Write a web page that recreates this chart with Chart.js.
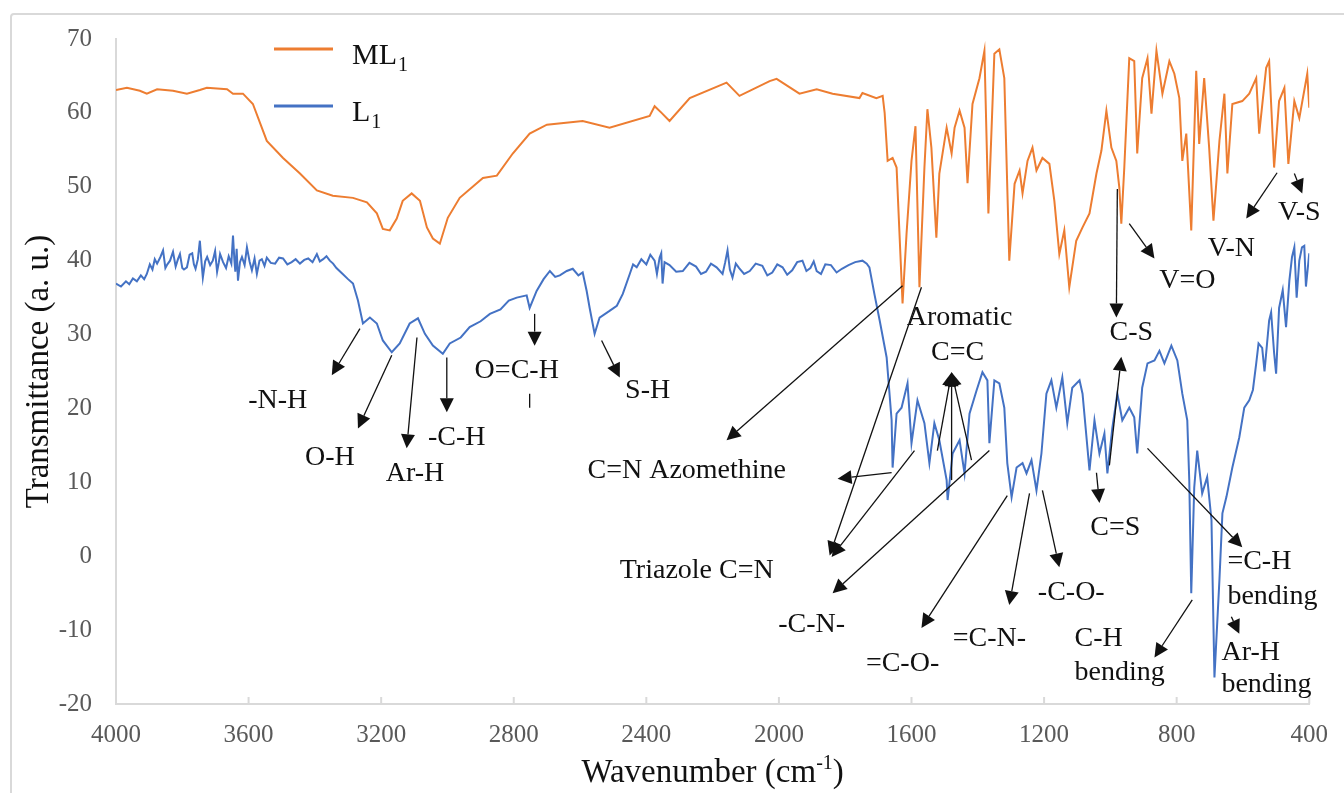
<!DOCTYPE html>
<html>
<head>
<meta charset="utf-8">
<title>FT-IR spectra of L1 and ML1</title>
<script src="https://cdn.jsdelivr.net/npm/chart.js"></script>
<style>
  html, body { margin: 0; padding: 0; background: #fff; overflow: hidden; }
  .chart-box { position: relative; width: 1344px; height: 793px; overflow: hidden; }
  .chart-frame { position: absolute; left: 10px; top: 13px; width: 1400px; height: 900px; border: 2px solid #d9d9d9; border-radius: 4px; }
  canvas { position: absolute; left: 0; top: 0; }
</style>
</head>
<body>
<div class="chart-box">
  <div class="chart-frame"></div>
  <canvas id="irChart" width="1344" height="793"></canvas>
</div>
<script>
// Spectra data (wavenumber in cm-1, transmittance in a. u.)

const ml1Wavenumber = [
  4000, 3967, 3928, 3907, 3876, 3828, 3786, 3747, 3726, 3665,
  3647, 3617, 3587, 3545, 3496, 3445, 3394, 3346, 3285, 3243,
  3213, 3195, 3174, 3153, 3135, 3108, 3083, 3062, 3044, 3023,
  2999, 2963, 2893, 2851, 2803, 2752, 2700, 2592, 2511, 2390,
  2375, 2354, 2330, 2269, 2158, 2119, 2028, 2007, 1938, 1886,
  1838, 1757, 1748, 1706, 1687, 1681, 1672, 1657, 1645, 1627,
  1615, 1600, 1588, 1576, 1561, 1552, 1540, 1525, 1516, 1494,
  1479, 1470, 1455, 1440, 1431, 1416, 1395, 1380, 1368, 1350,
  1335, 1320, 1305, 1289, 1274, 1265, 1250, 1235, 1223, 1205,
  1184, 1169, 1154, 1139, 1124, 1103, 1084, 1063, 1042, 1027,
  1012, 997, 982, 973, 967, 958, 943, 928, 919, 904,
  888, 876, 861, 843, 822, 807, 792, 783, 771, 756,
  741, 732, 717, 702, 689, 671, 656, 647, 632, 602,
  581, 560, 551, 530, 521, 506, 491, 475, 463, 445,
  430, 406, 400,
];
const ml1Transmittance = [
  63.1, 63.4, 63.0, 62.6, 63.2, 63.0, 62.6, 63.1, 63.4, 63.2,
  62.6, 62.6, 61.2, 56.2, 53.9, 51.8, 49.5, 48.8, 48.5, 47.9,
  46.4, 44.3, 44.1, 45.7, 48.1, 49.1, 48.1, 44.5, 43.0, 42.3,
  45.8, 48.5, 51.2, 51.5, 54.5, 57.2, 58.4, 58.9, 58.0, 59.6,
  60.9, 60.0, 58.9, 62.0, 64.1, 62.3, 64.3, 64.6, 62.6, 63.2,
  62.6, 62.0, 62.7, 62.0, 62.3, 60.0, 53.5, 53.9, 52.6, 34.2,
  43.6, 53.5, 58.2, 36.4, 52.6, 60.5, 55.3, 43.1, 51.8, 58.0,
  54.5, 58.0, 60.3, 58.0, 50.5, 61.2, 64.7, 68.4, 46.4, 68.0,
  68.6, 64.7, 40.0, 50.4, 52.2, 49.1, 53.5, 55.3, 52.2, 53.9,
  53.1, 48.1, 40.9, 44.1, 36.4, 42.7, 44.5, 46.4, 51.8, 54.9,
  60.3, 55.3, 53.5, 49.9, 45.0, 52.6, 67.4, 67.0, 54.5, 64.7,
  67.4, 59.9, 68.4, 62.6, 67.0, 65.3, 62.0, 53.5, 57.2, 44.1,
  65.7, 55.8, 64.7, 55.3, 45.4, 56.2, 62.6, 51.8, 61.2, 61.6,
  62.6, 64.7, 57.2, 66.1, 67.0, 52.6, 61.6, 63.4, 53.1, 61.6,
  59.3, 65.3, 60.7,
];

const l1Wavenumber = [
  // 4000 - 3335
  4000, 3985, 3970, 3960, 3949, 3937, 3925, 3915, 3907, 3898,
  3890, 3883, 3876, 3866, 3858, 3851, 3845, 3837, 3828, 3820,
  3813, 3807, 3800, 3795, 3786, 3778, 3770, 3765, 3760, 3753,
  3747, 3742, 3738, 3731, 3725, 3716, 3708, 3701, 3695, 3690,
  3686, 3677, 3668, 3660, 3652, 3647, 3643, 3640, 3636, 3632,
  3626, 3620, 3612, 3605, 3597, 3590, 3582, 3575, 3567, 3560,
  3552, 3545, 3533, 3520, 3508, 3496, 3483, 3470, 3458, 3445,
  3432, 3420, 3407, 3394, 3385, 3375, 3365, 3355, 3345, 3335,
  // 3316 - 2592
  3316, 3300, 3285, 3270, 3255, 3234, 3213, 3195, 3168, 3144,
  3114, 3089, 3068, 3044, 3014, 2993, 2960, 2933, 2900, 2872,
  2840, 2815, 2791, 2761, 2752, 2731, 2710, 2691, 2675, 2661,
  2640, 2622, 2605, 2592,
  // 2580 - 2429
  2580, 2571, 2556, 2541, 2511, 2489, 2471, 2450, 2440, 2429,
  // 2415 - 1727
  2415, 2400, 2388, 2375, 2368, 2360, 2355, 2351, 2345, 2330,
  2310, 2290, 2270, 2250, 2235, 2220, 2205, 2188, 2170, 2162,
  2155, 2148, 2140, 2130, 2120, 2105, 2088, 2070, 2050, 2035,
  2020, 2005, 1989, 1975, 1960, 1945, 1929, 1917, 1905, 1895,
  1886, 1873, 1860, 1843, 1826, 1810, 1790, 1770, 1748, 1735,
  1727,
  // 1712 - 400
  1712, 1696, 1675, 1660, 1657, 1645, 1630, 1612, 1600, 1582,
  1561, 1546, 1531, 1516, 1494, 1491, 1476, 1455, 1440, 1425,
  1404, 1386, 1371, 1365, 1350, 1335, 1320, 1311, 1298, 1283,
  1265, 1253, 1238, 1223, 1208, 1193, 1178, 1163, 1145, 1130,
  1115, 1093, 1084, 1063, 1048, 1033, 1018, 1009, 994, 979,
  964, 943, 928, 919, 904, 888, 867, 852, 837, 816,
  798, 783, 768, 762, 756, 747, 738, 723, 708, 695,
  686, 671, 662, 650, 632, 611, 596, 581, 570, 560,
  553, 542, 535, 521, 515, 506, 500, 491, 480, 470,
  460, 452, 445, 438, 430, 422, 415, 410, 400,
];
const l1Transmittance = [
  // 4000 - 3335
  36.9, 36.5, 37.2, 36.8, 37.6, 37.2, 38.0, 37.5, 38.2, 39.5,
  38.8, 40.2, 39.6, 40.5, 41.4, 39.0, 39.5, 40.0, 41.2, 39.2,
  40.2, 40.9, 39.0, 38.8, 39.1, 40.8, 41.0, 39.5, 38.9, 40.2,
  42.7, 39.8, 37.7, 39.9, 40.5, 39.4, 40.0, 41.3, 38.5, 39.7,
  40.9, 39.8, 39.0, 40.6, 39.6, 43.4, 40.2, 38.5, 41.6, 37.3,
  39.8, 40.5, 39.4, 41.8, 39.9, 38.7, 40.3, 38.2, 40.0, 40.2,
  39.3, 40.4, 39.7, 39.6, 40.4, 40.3, 39.5, 39.8, 40.2, 39.6,
  40.1, 40.3, 39.8, 40.9, 39.9, 40.2, 40.6, 40.0, 39.6, 39.0,
  // 3316 - 2592
  38.2, 37.5, 36.9, 34.6, 31.5, 32.3, 31.5, 29.2, 27.6, 28.8,
  31.5, 32.2, 30.1, 28.5, 27.4, 28.8, 29.6, 31.0, 31.8, 32.8,
  33.4, 34.6, 35.0, 35.3, 33.6, 35.9, 37.5, 38.6, 37.8, 38.0,
  38.6, 38.9, 38.0, 38.4,
  // 2580 - 2429
  35.9, 33.6, 30.1, 32.3, 33.2, 33.9, 35.5, 38.2, 39.5, 39.1,
  // 2415 - 1727
  40.2, 39.5, 40.8, 40.0, 38.2, 40.4, 41.0, 36.9, 39.8, 39.4,
  38.5, 38.6, 39.7, 39.2, 38.2, 38.5, 39.6, 39.1, 38.2, 39.8,
  41.4, 38.8, 37.7, 39.6, 39.0, 38.2, 38.6, 39.6, 39.3, 38.0,
  38.4, 39.5, 39.1, 38.1, 38.7, 39.8, 40.0, 38.6, 39.0, 39.9,
  38.6, 38.2, 39.5, 39.4, 38.4, 38.9, 39.4, 39.8, 40.0, 39.6,
  39.1,
  // 1712 - 400
  35.5, 31.9, 26.9, 18.4, 12.0, 19.3, 20.1, 23.4, 15.3, 21.1,
  18.0, 12.6, 18.0, 15.7, 10.3, 7.6, 13.9, 15.7, 11.2, 19.3,
  22.4, 24.9, 23.8, 15.3, 23.8, 23.4, 20.1, 12.6, 8.0, 12.0,
  12.6, 11.2, 13.0, 8.9, 13.9, 22.0, 23.8, 20.1, 24.2, 18.0,
  22.8, 23.8, 22.0, 11.6, 18.4, 13.9, 16.6, 11.2, 17.4, 22.0,
  18.4, 20.1, 18.8, 13.9, 22.8, 26.1, 26.5, 27.8, 26.1, 28.5,
  26.5, 22.0, 18.4, 10.3, -5.0, 9.3, 14.3, 8.5, 10.7, 4.9,
  -16.4, -3.2, 5.8, 8.0, 12.0, 16.1, 20.1, 21.1, 22.5, 26.1,
  28.8, 28.2, 25.0, 31.9, 33.0, 27.5, 24.7, 33.6, 36.0, 31.0,
  37.3, 40.5, 41.8, 35.0, 40.0, 41.8, 42.0, 36.5, 41.0,
];

const xTickValues = [4000, 3600, 3200, 2800, 2400, 2000, 1600, 1200, 800, 400];

// Band assignments: arrows go from [wavenumber, T] to [wavenumber, T], head at the end
const peakArrows = [
  [3264, 30.8, 3349, 24.5],
  [3168, 27.2, 3270, 17.3],
  [3092, 29.6, 3123, 14.6],
  [3002, 26.9, 3002, 19.5],
  [2737, 32.8, 2737, 28.5],
  [2535, 29.2, 2480, 24.2],
  [1627, 36.6, 2158, 15.7],
  [1660, 11.3, 1823, 10.5],
  [1570, 36.4, 1847, 0.1],
  [1591, 14.3, 1841, -0.1],
  [1365, 14.3, 1838, -5.0],
  [1522, 14.3, 1479, 24.9],
  [1479, 10.3, 1479, 24.9],
  [1419, 13.0, 1479, 24.9],
  [1311, 8.2, 1570, -9.7],
  [1244, 8.5, 1305, -6.6],
  [1205, 8.9, 1154, -1.5],
  [1042, 11.3, 1033, 7.2],
  [979, 49.7, 982, 32.3],
  [1003, 12.3, 967, 27.0],
  [888, 14.6, 602, 1.2],
  [753, -5.9, 867, -13.7],
  [635, -8.2, 611, -10.5],
  [943, 45.0, 867, 40.3],
  [497, 51.9, 590, 45.7],
  [445, 51.8, 421, 49.1],
];
// short mark under the O=C-H label
const peakTicks = [[2752, 22.0, 2752, 20.1]];

const peakLabels = [
  ["-N-H", 3512, 21.1, "center"],
  ["O-H", 3355, 13.4, "center"],
  ["Ar-H", 3098, 11.2, "center"],
  ["-C-H", 2972, 16.1, "center"],
  ["O=C-H", 2791, 25.1, "center"],
  ["S-H", 2396, 22.4, "center"],
  ["C=N Azomethine", 2278, 11.6, "center"],
  ["Triazole C=N", 2248, -1.9, "center"],
  ["Aromatic", 1455, 32.3, "center"],
  ["C=C", 1461, 27.6, "center"],
  ["-C-N-", 1901, -9.3, "center"],
  ["=C-O-", 1627, -14.5, "center"],
  ["=C-N-", 1365, -11.1, "center"],
  ["-C-O-", 1118, -4.9, "center"],
  ["C=S", 985, 3.9, "center"],
  ["C-S", 937, 30.3, "center"],
  ["V=O", 768, 37.3, "center"],
  ["V-N", 635, 41.6, "center"],
  ["V-S", 430, 46.5, "center"],
  ["C-H", 1108, -11.1, "left"],
  ["bending", 1108, -15.7, "left"],
  ["=C-H", 647, -0.8, "left"],
  ["bending", 647, -5.5, "left"],
  ["Ar-H", 665, -13.0, "left"],
  ["bending", 665, -17.4, "left"],
];

const serif = '"Liberation Serif", "Times New Roman", serif';

function toPoints(xs, ys) {
  return xs.map((x, i) => ({ x: x, y: ys[i] }));
}

function drawArrow(ctx, x1, y1, x2, y2, withHead) {
  const angle = Math.atan2(y2 - y1, x2 - x1);
  const headLen = withHead ? 14 : 0;
  const cos = Math.cos(angle);
  const sin = Math.sin(angle);

  ctx.beginPath();
  ctx.moveTo(x1, y1);
  ctx.lineTo(x2 - headLen * cos, y2 - headLen * sin);
  ctx.stroke();

  if (!withHead) {
    return;
  }
  ctx.beginPath();
  ctx.moveTo(x2, y2);
  ctx.lineTo(x2 - headLen * cos + 7 * sin, y2 - headLen * sin - 7 * cos);
  ctx.lineTo(x2 - headLen * cos - 7 * sin, y2 - headLen * sin + 7 * cos);
  ctx.closePath();
  ctx.fill();
}

// small tick marks standing on the x axis
const axisTickMarks = {
  id: "axisTickMarks",
  afterDraw(chart) {
    const { ctx, chartArea, scales } = chart;
    ctx.save();
    ctx.strokeStyle = "#d9d9d9";
    ctx.lineWidth = 2;
    xTickValues.forEach((value) => {
      const px = scales.x.getPixelForValue(value);
      ctx.beginPath();
      ctx.moveTo(px, chartArea.bottom);
      ctx.lineTo(px, chartArea.bottom - 7);
      ctx.stroke();
    });
    ctx.restore();
  },
};

// arrows and band names
const bandAnnotations = {
  id: "bandAnnotations",
  afterDatasetsDraw(chart) {
    const { ctx, scales } = chart;
    const px = (v) => scales.x.getPixelForValue(v);
    const py = (v) => scales.y.getPixelForValue(v);

    ctx.save();
    ctx.strokeStyle = "#111";
    ctx.fillStyle = "#111";
    ctx.lineWidth = 1.3;

    peakArrows.forEach(([x1, y1, x2, y2]) => {
      drawArrow(ctx, px(x1), py(y1), px(x2), py(y2), true);
    });
    peakTicks.forEach(([x1, y1, x2, y2]) => {
      drawArrow(ctx, px(x1), py(y1), px(x2), py(y2), false);
    });

    ctx.font = "28px " + serif;
    ctx.textBaseline = "middle";
    peakLabels.forEach(([text, x, y, align]) => {
      ctx.textAlign = align;
      ctx.fillText(text, px(x), py(y));
    });
    ctx.restore();
  },
};

// legend with subscripts and the x axis title with its superscript
const legendAndTitle = {
  id: "legendAndTitle",
  afterDraw(chart) {
    const { ctx, chartArea } = chart;
    ctx.save();

    chart.data.datasets.forEach((dataset, i) => {
      const y = chartArea.top + 10 + i * 57;
      ctx.strokeStyle = dataset.borderColor;
      ctx.lineWidth = 3;
      ctx.beginPath();
      ctx.moveTo(chartArea.left + 158, y);
      ctx.lineTo(chartArea.left + 217, y);
      ctx.stroke();

      ctx.fillStyle = "#111";
      ctx.textAlign = "left";
      ctx.textBaseline = "alphabetic";
      ctx.font = "30px " + serif;
      const name = dataset.label.slice(0, -1);
      const sub = dataset.label.slice(-1);
      const textX = chartArea.left + 236;
      ctx.fillText(name, textX, y + 15);
      const nameWidth = ctx.measureText(name).width;
      ctx.font = "20px " + serif;
      ctx.fillText(sub, textX + nameWidth + 1, y + 22);
    });

    const main = "Wavenumber (cm";
    const sup = "-1";
    const close = ")";
    ctx.font = "33px " + serif;
    const mainW = ctx.measureText(main).width;
    const closeW = ctx.measureText(close).width;
    ctx.font = "20px " + serif;
    const supW = ctx.measureText(sup).width;
    const total = mainW + supW + closeW;
    const startX = (chartArea.left + chartArea.right) / 2 - total / 2;
    const baseY = 782;

    ctx.fillStyle = "#111";
    ctx.textAlign = "left";
    ctx.textBaseline = "alphabetic";
    ctx.font = "33px " + serif;
    ctx.fillText(main, startX, baseY);
    ctx.font = "20px " + serif;
    ctx.fillText(sup, startX + mainW, baseY - 13);
    ctx.font = "33px " + serif;
    ctx.fillText(close, startX + mainW + supW, baseY);

    ctx.restore();
  },
};

//-----Chart----

const ctx = document.getElementById("irChart");

const irChart = new Chart(ctx, {
  type: "line",
  data: {
    datasets: [
      {
        label: "ML1",
        data: toPoints(ml1Wavenumber, ml1Transmittance),
        borderColor: "#ED7D31",
        borderWidth: 2,
        pointRadius: 0,
        tension: 0,
      },
      {
        label: "L1",
        data: toPoints(l1Wavenumber, l1Transmittance),
        borderColor: "#4472C4",
        borderWidth: 2,
        pointRadius: 0,
        tension: 0,
      },
    ],
  },

  options: {
    responsive: false,
    animation: false,
    devicePixelRatio: 1,
    layout: {
      padding: { top: 38, right: 34, bottom: 0, left: 0 },
    },

    plugins: {
      legend: { display: false },
      tooltip: { enabled: false },
    },

    scales: {
      x: {
        type: "linear",
        reverse: true,
        min: 400,
        max: 4000,
        afterBuildTicks: (scale) => {
          scale.ticks = xTickValues.map((v) => ({ value: v }));
        },
        afterFit: (scale) => {
          scale.height = 89;
        },
        ticks: {
          autoSkip: false,
          maxRotation: 0,
          padding: 16,
          color: "#595959",
          font: { family: serif, size: 25 },
          callback: (value) => String(value),
        },
        grid: { display: false, drawTicks: false },
        border: { display: true, color: "#d9d9d9", width: 2 },
      },

      y: {
        min: -20,
        max: 70,
        afterFit: (scale) => {
          scale.width = 116;
        },
        ticks: {
          stepSize: 10,
          padding: 24,
          color: "#595959",
          font: { family: serif, size: 25 },
        },
        grid: { display: false, drawTicks: false },
        border: { display: true, color: "#d9d9d9", width: 2 },
        title: {
          display: true,
          text: "Transmittance (a. u.)",
          color: "#111",
          font: { family: serif, size: 33 },
          padding: { top: 20, bottom: 0 },
        },
      },
    },
  },

  plugins: [axisTickMarks, bandAnnotations, legendAndTitle],
});
</script>
</body>
</html>
